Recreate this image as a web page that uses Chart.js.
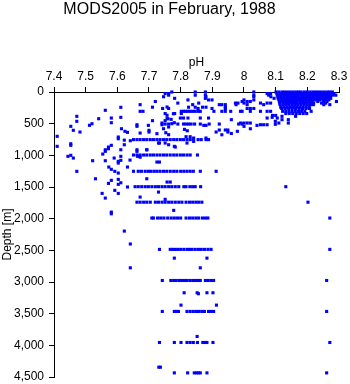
<!DOCTYPE html>
<html>
<head>
<meta charset="utf-8">
<script src="https://cdn.jsdelivr.net/npm/chart.js@4/dist/chart.umd.min.js"></script>
<style>
  html, body { margin: 0; padding: 0; background: #fff; }
  #wrap { width: 350px; height: 384px; }
</style>
</head>
<body>
<div id="wrap"><canvas id="chart" width="350" height="384"></canvas></div>
<script>
// ticks
const phTicks = [7.4, 7.5, 7.6, 7.7, 7.8, 7.9, 8.0, 8.1, 8.2, 8.3];
const depthTicks = [0, 500, 1000, 1500, 2000, 2500, 3000, 3500, 4000, 4500];

// standard depth levels [m] and the pH values found at each one
const levelDepth = [0, 25, 50, 75, 100, 125, 150, 175, 200, 240, 260, 305, 340, 370,
                    752, 995, 1252, 1495, 1740, 1990, 2485, 2976, 3465, 3955, 4435];
const levelPH = [
  [7.772, 7.846, 7.878, 8.031, 8.101, 8.11, 8.12, 8.128, 8.137, 8.146, 8.155, 8.164, 8.172, 8.18, 8.19, 8.199, 8.208, 8.217, 8.226, 8.235, 8.244, 8.253, 8.262, 8.27, 8.279],
  [7.751, 7.762, 8.073, 8.084, 8.104, 8.113, 8.122, 8.131, 8.14, 8.149, 8.158, 8.167, 8.176, 8.185, 8.194, 8.203, 8.212, 8.221, 8.23, 8.239, 8.248, 8.257, 8.266, 8.275, 8.284],
  [7.762, 7.846, 7.878, 8.031, 8.078, 8.105, 8.115, 8.125, 8.133, 8.142, 8.152, 8.161, 8.17, 8.18, 8.189, 8.198, 8.207, 8.216, 8.226, 8.235, 8.244, 8.254, 8.263, 8.272, 8.281, 8.29],
  [7.746, 7.88, 8.031, 8.085, 8.107, 8.116, 8.126, 8.135, 8.144, 8.153, 8.162, 8.171, 8.181, 8.19, 8.2, 8.209, 8.218, 8.227, 8.236, 8.245, 8.255, 8.264, 8.273],
  [7.781, 7.878, 8.095, 8.108, 8.118, 8.127, 8.136, 8.145, 8.155, 8.164, 8.173, 8.182, 8.191, 8.2, 8.21, 8.219, 8.228, 8.238, 8.247, 8.256, 8.265, 8.274],
  [7.823, 7.888, 7.899, 8.0, 8.031, 8.11, 8.12, 8.129, 8.138, 8.147, 8.156, 8.166, 8.175, 8.184, 8.194, 8.203, 8.212, 8.222, 8.231, 8.24, 8.25, 8.259, 8.268],
  [7.72, 7.994, 8.01, 8.02, 8.112, 8.122, 8.131, 8.14, 8.15, 8.159, 8.168, 8.178, 8.187, 8.196, 8.206, 8.215, 8.233, 8.252, 8.262, 8.292],
  [7.791, 7.857, 7.973, 7.981, 8.0, 8.052, 8.073, 8.084, 8.113, 8.124, 8.134, 8.145, 8.156, 8.166, 8.177, 8.188, 8.198, 8.209, 8.22, 8.245, 8.258],
  [7.838, 7.922, 7.93, 7.941, 7.975, 8.01, 8.062, 8.114, 8.124, 8.133, 8.142, 8.152, 8.161, 8.17, 8.18, 8.19, 8.2, 8.21, 8.219, 8.252, 8.271],
  [7.711, 7.825, 7.846, 7.869, 7.88, 7.941, 8.116, 8.126, 8.136, 8.146, 8.156, 8.166, 8.176, 8.186, 8.196, 8.206],
  [7.743, 7.762, 7.855, 7.899, 7.941, 8.01, 8.02, 8.031, 8.119, 8.13, 8.141, 8.152, 8.163, 8.174, 8.185, 8.196, 8.207],
  [7.802, 7.809, 7.815, 7.822, 7.83, 7.838, 7.846, 7.855, 7.862, 7.905, 7.93, 7.941, 7.958, 7.989, 7.994, 8.02, 8.052, 8.073, 8.084, 8.122, 8.132, 8.142, 8.152, 8.162, 8.172, 8.182, 8.192, 8.212],
  [7.751, 7.781, 7.802, 8.132, 8.143, 8.154, 8.165, 8.176, 8.187, 8.198],
  [8.09, 8.1],
  [7.651, 7.662, 7.672, 7.683, 7.693, 7.704, 7.714, 7.725, 7.735, 7.746, 7.756, 7.767, 7.778, 7.788, 7.799, 7.809, 7.82, 7.83, 7.84, 7.855, 7.865, 7.88, 7.888],
  [7.651, 7.662, 7.672, 7.683, 7.693, 7.704, 7.714, 7.725, 7.735, 7.746, 7.756, 7.767, 7.778, 7.788, 7.799, 7.809, 7.82, 7.83, 7.853],
  [7.651, 7.666, 7.676, 7.688, 7.698, 7.706, 7.716, 7.725, 7.735, 7.746, 7.756, 7.767, 7.778, 7.788, 7.8, 7.81, 7.82, 7.83, 7.84, 7.862, 7.912],
  [7.656, 7.666, 7.677, 7.688, 7.698, 7.709, 7.72, 7.73, 7.741, 7.751, 7.762, 7.772, 7.783, 7.794, 7.81, 7.817, 7.829, 7.838, 7.846, 7.863, 8.132],
  [7.662, 7.672, 7.683, 7.693, 7.704, 7.72, 7.73, 7.741, 7.751, 7.762, 7.772, 7.783, 7.794, 7.804, 7.817, 7.828, 7.838, 7.848, 7.857, 7.867, 8.202],
  [7.709, 7.714, 7.727, 7.737, 7.747, 7.759, 7.77, 7.78, 7.79, 7.8, 7.817, 7.828, 7.838, 7.848, 7.857, 7.869, 7.878, 7.886, 8.271],
  [7.733, 7.767, 7.775, 7.783, 7.791, 7.8, 7.81, 7.82, 7.828, 7.836, 7.846, 7.856, 7.865, 7.875, 7.886, 7.896, 8.271],
  [7.742, 7.769, 7.778, 7.786, 7.795, 7.803, 7.812, 7.82, 7.829, 7.838, 7.847, 7.855, 7.862, 7.878, 7.886, 7.895, 7.904, 8.261],
  [7.742, 7.78, 7.787, 7.793, 7.82, 7.83, 7.84, 7.85, 7.858, 7.867, 7.875, 7.888, 7.896, 7.904, 8.261],
  [7.733, 7.78, 7.801, 7.82, 7.83, 7.84, 7.853, 7.87, 7.877, 7.883, 7.902, 8.271],
  [7.78, 7.822, 7.843, 7.85, 7.856, 7.862, 7.883, 8.261]
];

// casts that do not sit on a standard level
const otherPH = [
  7.757, 7.757, 7.757, 7.77, 7.777, 7.746, 7.762, 7.772, 7.78,
  7.799, 7.809, 7.823, 7.862, 7.888, 7.76, 7.751, 7.711, 7.96,
  7.741, 7.741, 7.751, 7.762, 7.791, 7.809, 7.817, 7.825, 7.833, 7.844, 7.862, 7.873, 7.88, 7.89,
  7.922, 7.983, 7.994, 7.989, 8.0, 8.01, 8.02, 8.0, 8.02, 8.041, 8.052, 8.062, 8.073, 8.099, 8.11, 8.099,
  8.073, 8.089, 8.105, 8.12, 8.12, 8.14, 8.14, 8.163,
  7.812, 7.821, 7.912, 7.922, 7.941, 7.949, 7.949, 7.93, 7.979, 7.96,
  7.7, 7.753, 7.725, 7.762, 7.698, 7.7,
  7.817, 7.83, 7.841, 7.841, 7.88, 7.73, 7.762, 7.82, 7.783, 7.693, 7.733, 7.751, 7.78,
  7.672, 7.611, 7.672, 7.681, 7.562, 7.472, 7.581, 7.611, 7.541, 7.472, 7.581, 7.52, 7.512, 7.453,
  7.662, 7.662, 7.461, 7.482, 7.613, 7.624, 7.632, 7.672, 7.41, 7.603, 7.603, 7.622, 7.641,
  7.453, 7.453, 7.41, 7.581, 7.572, 7.572, 7.622, 7.611, 7.562, 7.562, 7.662, 7.662, 7.693, 7.554,
  7.664, 7.444, 7.453, 7.461, 7.59, 7.611, 7.603, 7.611, 7.603, 7.522, 7.562, 7.573, 7.581, 7.592,
  7.603, 7.472, 7.632, 7.725, 7.733, 7.672, 7.64,
  7.531, 7.581, 7.572, 7.603, 7.611, 7.603, 7.632, 7.592, 7.552, 7.562, 7.603, 7.581, 7.581,
  7.622, 7.641, 7.641, 7.693, 7.757, 7.767, 7.73, 7.672, 7.778, 7.751,
  7.78, 7.883, 7.862, 7.811, 7.852, 7.856, 7.883, 7.902, 7.801, 7.913, 7.852, 7.731, 7.736
];
const otherDepth = [
  237, 368, 421, 432, 343, 580, 553, 500, 485,
  411, 411, 411, 411, 411, 422, 453, 453, 437,
  490, 517, 506, 506, 506, 506, 506, 506, 506, 506, 506, 527, 527, 506,
  506, 506, 506, 490, 490, 490, 490, 542, 580, 527, 517, 517, 517, 463, 490, 510,
  411, 400, 411, 384, 437, 437, 490, 384,
  590, 612, 632, 600, 600, 600, 632, 675, 621, 655,
  632, 643, 658, 674, 527, 605,
  706, 706, 727, 780, 727, 806, 833, 806, 869, 912, 806, 806, 858,
  200, 242, 305, 305, 289, 384, 411, 400, 422, 463, 485, 501, 526, 542,
  517, 542, 605, 632, 580, 621, 637, 648, 700, 711, 738, 760, 769,
  817, 842, 858, 842, 869, 896, 833, 912, 912, 937, 912, 937, 912, 980,
  1016, 1016, 1000, 1043, 1043, 1016, 1095, 1079, 1122, 1085, 1085, 1185, 1221, 1253,
  1280, 1253, 1185, 1106, 1106, 1030, 1075,
  1370, 1395, 1443, 1380, 1433, 1458, 1500, 1553, 1601, 1675, 1601, 1896, 1923,
  2196, 2400, 2776, 1370, 1422, 1422, 1580, 1659, 1869, 1695,
  2623, 2623, 2776, 3170, 3170, 3185, 3170, 3170, 3365, 3365, 3860, 4345, 4345
];

const points = [];
levelDepth.forEach((d, i) => {
  levelPH[i].forEach(ph => points.push({x: ph, y: d}));
});
otherPH.forEach((ph, i) => points.push({x: ph, y: otherDepth[i]}));

Chart.defaults.font.family = "'Liberation Sans', Arial, sans-serif";
Chart.defaults.color = '#000';

const ctx = document.getElementById('chart').getContext('2d');
new Chart(ctx, {
  type: 'scatter',
  data: {
    datasets: [{
      data: points,
      backgroundColor: '#0000ff',
      borderWidth: 0,
      pointStyle: 'rect',
      pointRadius: 2.2,
      clip: false
    }]
  },
  options: {
    responsive: false,
    animation: false,
    layout: { padding: { left: 0, right: 11, top: 2, bottom: 7 } },
    plugins: {
      legend: { display: false },
      tooltip: { enabled: false },
      title: {
        display: true,
        text: 'MODS2005 in February, 1988',
        color: '#000',
        font: { size: 16, weight: 'normal', lineHeight: 1 },
        padding: { top: 0, bottom: 0 }
      }
    },
    scales: {
      x: {
        type: 'linear',
        position: 'top',
        min: 7.4,
        max: 8.3,
        afterBuildTicks: s => { s.ticks = phTicks.map(v => ({ value: v })); },
        afterFit: s => { s.height = 74; s.paddingLeft = 0; s.paddingRight = 0; },
        ticks: {
          color: '#000',
          font: { size: 12 },
          padding: 3,
          maxRotation: 0,
          autoSkip: false,
          callback: v => String(+v.toFixed(1))
        },
        grid: { drawOnChartArea: false, tickLength: 5, color: '#000' },
        border: { color: '#000' },
        title: {
          display: true,
          text: 'pH',
          color: '#000',
          font: { size: 12 },
          padding: { top: 37, bottom: 0 }
        }
      },
      y: {
        type: 'linear',
        reverse: true,
        min: 0,
        max: 4500,
        afterBuildTicks: s => { s.ticks = depthTicks.map(v => ({ value: v })); },
        afterFit: s => { s.width = 54; s.paddingTop = 0; s.paddingBottom = 0; },
        ticks: {
          color: '#000',
          font: { size: 12 },
          padding: 5,
          autoSkip: false
        },
        grid: { drawOnChartArea: false, tickLength: 5, color: '#000' },
        border: { color: '#000' },
        title: {
          display: true,
          text: 'Depth [m]',
          color: '#000',
          font: { size: 12 },
          padding: { top: 0, bottom: 0 }
        }
      }
    }
  }
});
</script>
</body>
</html>
